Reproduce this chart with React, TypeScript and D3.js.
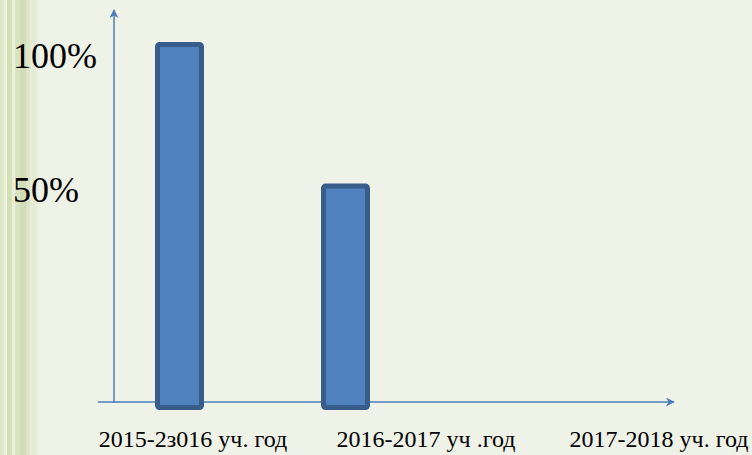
import React from 'react';
import * as d3 from 'd3';

// data
const categories = ['2015-2016', '2016-2017', '2017-2018'];
const categoryLabels = ['2015-2з016 уч. год', '2016-2017 уч .год', '2017-2018 уч. год'];
const values = [100, 61, 0];
const tickValues = [100, 50];
const tickLabels = ['100%', '50%'];

const W = 752;
const H = 455;
const BG = '#eff2e7';
const AXIS = '#4a7ebb';
const FILL = '#4f81bd';
const EDGE = '#385d8a';
const FONT = '"Liberation Serif", "Times New Roman", serif';

const stripes = [
  { x: 0, w: 4, c: '#dfe8c9' },
  { x: 4, w: 3, c: '#edf1e0' },
  { x: 7, w: 5, c: '#d3dfb6' },
  { x: 12, w: 3, c: '#e9efd9' },
  { x: 15, w: 5, c: '#d8e3c0' },
  { x: 20, w: 6, c: '#d2ddb8' },
  { x: 26, w: 4, c: '#dde6c8' },
  { x: 30, w: 3, c: '#e7ecd9' },
];

export default function App() {
  const y = d3.scaleLinear().domain([0, 100]).range([407.5, 44.5]);
  const barX = d3.scalePoint<string>().domain(categories).range([179.5, 511.5]);
  const labelX = d3.scalePoint<string>().domain(categories).range([193, 659]);
  const tickY = d3.scaleLinear().domain([50, 100]).range([202, 68]);
  const barW = 44;
  const axisY = 402;
  const axisX = 114;

  return (
    <svg width={W} height={H} style={{ position: 'fixed', left: 0, top: 0 }} xmlns="http://www.w3.org/2000/svg">
      <defs>
        <marker id="arr" viewBox="0 0 10 10" refX="9" refY="5" markerWidth="10" markerHeight="9" orient="auto-start-reverse" markerUnits="userSpaceOnUse">
          <path d="M0,0 L10,5 L0,10 L3,5 Z" fill={AXIS} />
        </marker>
        <linearGradient id="fade" x1="0" x2="1" y1="0" y2="0">
          <stop offset="0" stopColor="#d9e3c2" />
          <stop offset="1" stopColor={BG} />
        </linearGradient>
      </defs>
      <rect x={0} y={0} width={W} height={H} fill={BG} />
      <rect x={30} y={0} width={10} height={H} fill="url(#fade)" />
      {stripes.map((s, i) => (
        <rect key={i} x={s.x} y={0} width={s.w} height={H} fill={s.c} />
      ))}

      {/* axes */}
      <line x1={axisX} y1={axisY + 1} x2={axisX} y2={10} stroke={AXIS} strokeWidth={1.5} markerEnd="url(#arr)" />
      <line x1={98} y1={axisY} x2={674} y2={axisY} stroke={AXIS} strokeWidth={1.5} markerEnd="url(#arr)" />

      {/* bars */}
      {categories.map((c, i) =>
        values[i] > 0 ? (
          <rect
            key={c}
            x={(barX(c) ?? 0) - barW / 2}
            y={y(values[i])}
            width={barW}
            height={y(0) - y(values[i])}
            fill={FILL}
            stroke={EDGE}
            strokeWidth={5}
            rx={2}
          />
        ) : null
      )}

      {/* y labels */}
      {tickValues.map((v, i) => (
        <text key={v} x={13} y={tickY(v)} fontFamily={FONT} fontSize={36} fill="#000">
          {tickLabels[i]}
        </text>
      ))}

      {/* category labels */}
      {categories.map((c, i) => (
        <text key={c} x={labelX(c)} y={447} textAnchor="middle" fontFamily={FONT} fontSize={24} fill="#000">
          {categoryLabels[i]}
        </text>
      ))}
    </svg>
  );
}
